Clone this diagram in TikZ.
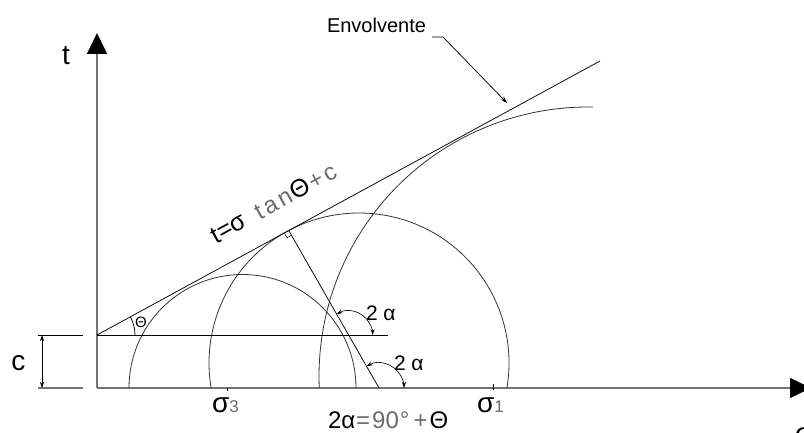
\documentclass[tikz,border=0pt]{standalone}
\usepackage{fontspec}
\setmainfont{Liberation Sans}
\usetikzlibrary{arrows.meta}
\definecolor{thintxt}{gray}{0.42}
\definecolor{axisgray}{gray}{0.45}
\begin{document}
\begin{tikzpicture}[x=1pt,y=1pt,
  axisline/.style={draw=axisgray, line width=1.4pt},
  thinline/.style={draw=black, line width=0.75pt},
  circline/.style={draw=black!80, line width=0.8pt},
  bigtip/.style={-{Triangle[length=21pt,width=20pt,color=black]}},
  angarrow/.style={draw=black, line width=0.6pt, {Stealth[length=6pt,width=4pt]}-{Stealth[length=6pt,width=4pt]}},
  lbl/.style={inner sep=0pt, outer sep=0pt},
  f28/.style={font=\fontsize{28}{30}\selectfont},
  f25/.style={font=\fontsize{25}{27}\selectfont},
  f24/.style={font=\fontsize{24}{26}\selectfont},
  f21/.style={font=\fontsize{21}{23}\selectfont},
  f20/.style={font=\fontsize{20}{22}\selectfont},
  f15/.style={font=\fontsize{15}{17}\selectfont}]
\useasboundingbox (0,0) rectangle (804,432);
% key points
\coordinate (O) at (97,44);
\coordinate (Ytip) at (97,399);
\coordinate (Xtip) at (811,44);
\coordinate (C) at (97,97);
\coordinate (Cend) at (388,97);
\coordinate (Eend) at (600,371);
\coordinate (T) at (289,201);
\coordinate (F) at (379,44);
\coordinate (P) at (348.6,97);
% axes
\draw[axisline,bigtip] (O) -- (Ytip);
\draw[axisline,bigtip] (O) -- (Xtip);
% c dimension
\draw[thinline] (38,97) -- (83,97);
\draw[axisline] (38,44) -- (83,44);
\draw[thinline,{Stealth[length=6pt,width=4pt]}-{Stealth[length=6pt,width=4pt]}] (42,97) -- (42,44);
% Mohr circles
\draw[circline] (356,44) arc[start angle=0,end angle=180,radius=113.5];
\draw[circline] (506.9,44) arc[start angle=-9.6,end angle=189.6,radius=150];
\draw[circline] (319.3,44) arc[start angle=182.56,end angle=88.9,radius=269];
% envelope and c line
\draw[thinline] (C) -- (Eend);
\draw[thinline] (C) -- (Cend);
% perpendicular at tangent point
\draw[thinline] (T) -- (F);
\draw[thinline, line width=0.5pt] (284.6,198.6) -- (287.1,194.3) -- (291.5,196.7);
% angle arcs
\draw[angarrow] (336.7,117.8) arc[start angle=119.8,end angle=0,radius=24];
\draw[angarrow] (366.6,65.7) arc[start angle=119.8,end angle=0,radius=25];
\draw[thinline] (135,97) arc[start angle=0,end angle=28.6,radius=38];
% ticks
\draw[thinline] (227,44) -- (227,41);
\draw[thinline] (493,48) -- (493,42);
% Envolvente leader
\coordinate (L0) at (432,395);
\coordinate (L1) at (443,395);
\coordinate (Etip) at (507,329);
\draw[thinline,-{Stealth[length=7pt,width=4.5pt]}] (L0) -- (L1) -- (Etip);
% labels
\node[lbl,f20,anchor=base west] (env) at (327,399) {Envolvente};
\node[lbl,f28,anchor=base] (tlab) at (66,367) {t};
\node[lbl,f28,anchor=base] (clab) at (18.5,62) {c};
\node[lbl,f15] (thlab) at (141,110) {Θ};
\node[lbl,f21,anchor=base west] (a1) at (366,112) {2 α};
\node[lbl,f21,anchor=base west] (a2) at (394,62) {2 α};
\node[lbl,f28,anchor=base west] (s3) at (212,20) {σ{\fontsize{17}{18}\selectfont\color{thintxt}3}};
\node[lbl,f28,anchor=base west] (s1) at (477,20) {σ{\fontsize{17}{18}\selectfont\color{thintxt}1}};
\node[lbl,f28,anchor=base west] (sx) at (795,-10) {σ};
\node[lbl,f24,anchor=base west] (rel) at (328,3.5) {2α{\color{thintxt}\hspace{1pt}=\hspace{2pt}90\hspace{1pt}°\hspace{4pt}+\hspace{2pt}}Θ};
\node[lbl,f25,anchor=base west,rotate=28.6] (law) at (216,188) {t=σ\hspace{13pt}{\fontsize{24}{26}\selectfont\color{thintxt}t\hspace{3pt}a\hspace{3pt}n}\hspace{1pt}Θ{\fontsize{24}{26}\selectfont\color{thintxt}\hspace{1pt}+\hspace{3pt}c}};
\end{tikzpicture}
\end{document}
